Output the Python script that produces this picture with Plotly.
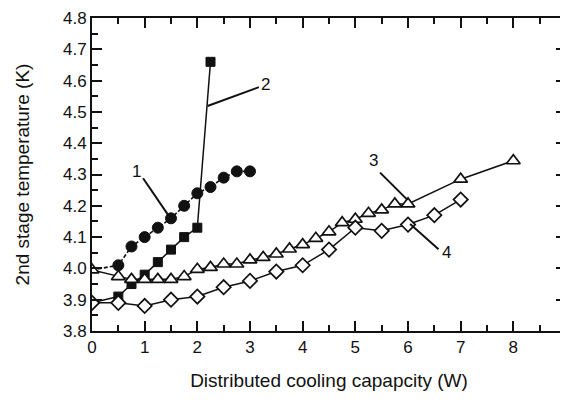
import plotly.graph_objects as go

# Series 1 (filled circles)
x1 = [0, 0.5, 0.75, 1.0, 1.25, 1.5, 1.75, 2.0, 2.25, 2.5, 2.75, 3.0]
y1 = [3.995, 4.01, 4.07, 4.10, 4.13, 4.16, 4.20, 4.24, 4.26, 4.29, 4.31, 4.31]
# Series 2 (filled squares)
x2 = [0, 0.5, 0.75, 1.0, 1.25, 1.5, 1.75, 2.0, 2.25]
y2 = [3.89, 3.91, 3.95, 3.98, 4.02, 4.06, 4.10, 4.13, 4.66]
# Series 3 (open triangles)
x3 = [0, 0.5, 0.75, 1.0, 1.25, 1.5, 1.75, 2.0, 2.25, 2.5, 2.75, 3.0, 3.25, 3.5,
      3.75, 4.0, 4.25, 4.5, 4.75, 5.0, 5.25, 5.5, 5.75, 6.0, 7.0, 8.0]
y3 = [3.995, 3.974, 3.965, 3.965, 3.965, 3.965, 3.974, 3.997, 4.003, 4.014, 4.014,
      4.027, 4.035, 4.046, 4.062, 4.076, 4.096, 4.117, 4.146, 4.157, 4.176, 4.187,
      4.206, 4.206, 4.285, 4.344]
# Series 4 (open diamonds)
x4 = [0, 0.5, 1.0, 1.5, 2.0, 2.5, 3.0, 3.5, 4.0, 4.5, 5.0, 5.5, 6.0, 6.5, 7.0]
y4 = [3.89, 3.89, 3.88, 3.90, 3.91, 3.94, 3.96, 3.99, 4.01, 4.06, 4.13, 4.12, 4.14, 4.17, 4.22]

# Curve labels: (label, text position, leader start, leader end)
labels = ["1", "2", "3", "4"]
label_pos = [(0.84, 4.31), (3.30, 4.586), (5.34, 4.346), (6.74, 4.05)]
leader_from = [(0.97, 4.288), (3.169, 4.579), (5.47, 4.306), (6.04, 4.142)]
leader_to = [(1.445, 4.171), (2.194, 4.519), (5.99, 4.219), (6.58, 4.061)]

x_ticks = list(range(0, 10))
y_ticks = [3.8, 3.9, 4.0, 4.1, 4.2, 4.3, 4.4, 4.5, 4.6, 4.7, 4.8]

ink = "#111111"
FONT = "Liberation Sans, Arial"
fig = go.Figure()

fig.add_trace(go.Scatter(
    x=x1, y=y1, mode="lines+markers",
    line=dict(color=ink, width=1.6, dash="4px,2px"),
    marker=dict(symbol="circle", size=[0] + [11] * (len(x1) - 1), color=ink,
                opacity=1, line=dict(color=ink, width=1)),
    showlegend=False))
fig.add_trace(go.Scatter(
    x=x2, y=y2, mode="lines+markers",
    line=dict(color=ink, width=1.5),
    marker=dict(symbol="square", size=[0] + [9] * (len(x2) - 1), color=ink,
                opacity=1, line=dict(color=ink, width=1)),
    showlegend=False))
fig.add_trace(go.Scatter(
    x=x3, y=y3, mode="lines+markers",
    line=dict(color=ink, width=1.5),
    marker=dict(symbol="triangle-up", size=12, color="white", opacity=1,
                line=dict(color=ink, width=1.7)),
    showlegend=False))
fig.add_trace(go.Scatter(
    x=x4, y=y4, mode="lines+markers",
    line=dict(color=ink, width=1.5),
    marker=dict(symbol="diamond", size=11, color="white", opacity=1,
                line=dict(color=ink, width=1.7)),
    showlegend=False))

for lab, (tx, ty), (ax0, ay0), (ax1, ay1) in zip(labels, label_pos, leader_from, leader_to):
    fig.add_shape(type="line", x0=ax0, y0=ay0, x1=ax1, y1=ay1,
                  line=dict(color=ink, width=2), xref="x", yref="y")
    fig.add_annotation(x=tx, y=ty, text=lab, showarrow=False,
                       font=dict(size=17, color=ink, family=FONT))

axis_common = dict(
    showline=True, linecolor=ink, linewidth=2, mirror="allticks",
    ticks="inside", ticklen=10, tickwidth=2, tickcolor=ink,
    showgrid=False, zeroline=False, automargin=False,
    ticklabeloverflow="allow",
    tickfont=dict(size=17, color=ink, family=FONT),
)

fig.update_xaxes(
    range=[0, 9], tickvals=x_ticks, ticktext=[str(v) for v in x_ticks],
    minor=dict(ticks="inside", ticklen=6, tickwidth=2, tickcolor=ink, dtick=0.5, tick0=0),
    title=dict(text="Distributed cooling capapcity (W)", standoff=17,
               font=dict(size=19, color=ink, family=FONT)),
    **axis_common)
fig.update_yaxes(
    range=[3.8, 4.8], tickvals=y_ticks, ticktext=[f"{v:.1f}" for v in y_ticks],
    minor=dict(ticks="inside", ticklen=6, tickwidth=2, tickcolor=ink, dtick=0.05, tick0=3.8),
    title=dict(text="2nd stage temperature (K)", standoff=28,
               font=dict(size=19, color=ink, family=FONT)),
    **axis_common)

# page body has an 8px default margin; compensate so the plot lands where the reference has it
fig.update_layout(
    width=560, height=392,
    margin=dict(l=84, r=2, t=10, b=69),
    paper_bgcolor="white", plot_bgcolor="white",
)

fig.write_html("out.html")
